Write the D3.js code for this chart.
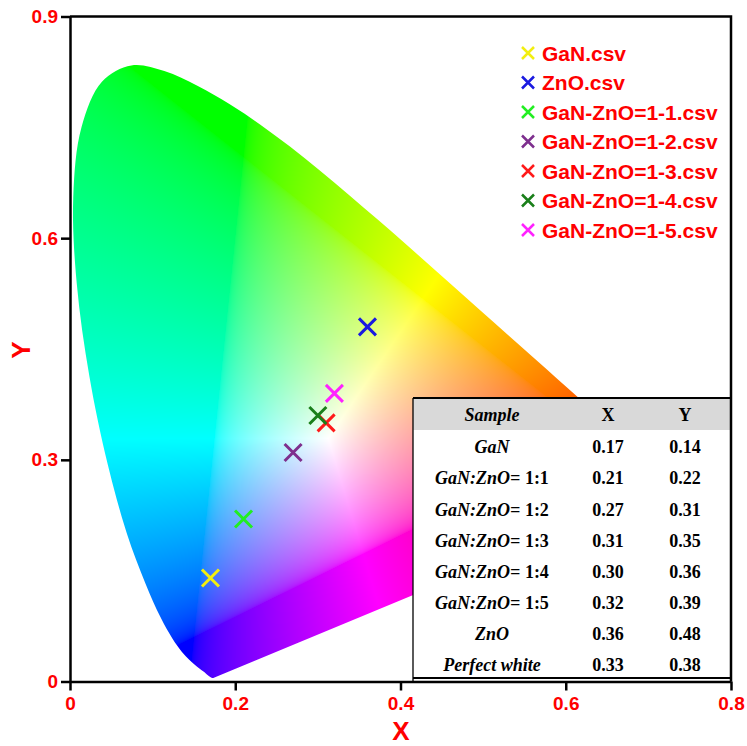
<!DOCTYPE html>
<html>
<head>
<meta charset="utf-8">
<script src="https://cdn.jsdelivr.net/npm/d3@7"></script>
<style>
  html, body { margin: 0; padding: 0; background: #ffffff; }
  svg { display: block; }
</style>
</head>
<body>
<svg id="chart" width="747" height="746"></svg>
<script>
// CIE 1931 2° spectral locus, 380–700 nm (chromaticity x, y)
const locusX = [0.1741,0.1740,0.1738,0.1736,0.1733,0.1730,0.1726,0.1721,0.1714,0.1703,0.1689,0.1669,0.1644,0.1611,0.1566,0.1510,0.1440,0.1355,0.1241,0.1096,0.0913,0.0687,0.0454,0.0235,0.0082,0.0039,0.0139,0.0389,0.0743,0.1142,0.1547,0.1929,0.2296,0.2658,0.3016,0.3373,0.3731,0.4087,0.4441,0.4788,0.5125,0.5448,0.5752,0.6029,0.6270,0.6482,0.6658,0.6801,0.6915,0.7006,0.7079,0.7140,0.7190,0.7230,0.7260,0.7283,0.7300,0.7311,0.7320,0.7334,0.7344,0.7347];
const locusY = [0.0050,0.0050,0.0049,0.0049,0.0048,0.0048,0.0048,0.0048,0.0051,0.0058,0.0069,0.0086,0.0109,0.0138,0.0177,0.0227,0.0297,0.0399,0.0578,0.0868,0.1327,0.2007,0.2950,0.4127,0.5384,0.6548,0.7502,0.8120,0.8338,0.8262,0.8059,0.7816,0.7543,0.7243,0.6923,0.6589,0.6245,0.5896,0.5547,0.5202,0.4866,0.4544,0.4242,0.3965,0.3725,0.3514,0.3340,0.3197,0.3083,0.2993,0.2920,0.2859,0.2809,0.2770,0.2740,0.2717,0.2700,0.2689,0.2680,0.2666,0.2656,0.2653];

// Measured samples
const seriesLabels = ["GaN.csv","ZnO.csv","GaN-ZnO=1-1.csv","GaN-ZnO=1-2.csv","GaN-ZnO=1-3.csv","GaN-ZnO=1-4.csv","GaN-ZnO=1-5.csv"];
const seriesX = [0.17,0.36,0.21,0.27,0.31,0.30,0.32];
const seriesY = [0.14,0.48,0.22,0.31,0.35,0.36,0.39];
const seriesColors = ["#f2ee10","#1a1ae0","#22ee22","#7e2f8e","#ff1a1a","#1a7f1a","#ff22ff"];

// Coordinates table
const tableHeader = ["Sample","X","Y"];
const tableNameItalic = ["GaN","GaN:ZnO=","GaN:ZnO=","GaN:ZnO=","GaN:ZnO=","GaN:ZnO=","ZnO","Perfect white"];
const tableNameRatio = ["","1:1","1:2","1:3","1:4","1:5","",""];
const tableX = [0.17,0.21,0.27,0.31,0.30,0.32,0.36,0.33];
const tableY = [0.14,0.22,0.31,0.35,0.36,0.39,0.48,0.38];

// Axis ticks
const xTicks = [0,0.2,0.4,0.6,0.8];
const yTicks = [0,0.3,0.6,0.9];

const svg = d3.select("#chart");
const mL = 70, mR = 731, mT = 16.5, mB = 681.5;
const x = d3.scaleLinear().domain([0,0.8]).range([mL,mR]);
const y = d3.scaleLinear().domain([0,0.9]).range([mB,mT]);

// ---- Chromaticity background (Adobe RGB primaries, D65) on a canvas ----
const cx0 = mL, cy0 = Math.floor(mT);
const W = Math.ceil(mR - mL), H = Math.ceil(mB - cy0);
const canvas = document.createElement("canvas");
canvas.width = W; canvas.height = H;
const ctx = canvas.getContext("2d");
const img = ctx.createImageData(W, H);
const gam = v => Math.pow(v, 1/2.19921875);
for (let j = 0; j < H; j++) {
  const cy = y.invert(cy0 + j + 0.5);
  if (cy <= 0.0005) continue;
  for (let i = 0; i < W; i++) {
    const cx = x.invert(cx0 + i + 0.5);
    const X = cx / cy, Y = 1, Z = (1 - cx - cy) / cy;
    let r = 2.0413690*X - 0.5649464*Y - 0.3446944*Z;
    let g = -0.9692660*X + 1.8760108*Y + 0.0415560*Z;
    let b = 0.0134474*X - 0.1183897*Y + 1.0154096*Z;
    r = Math.max(r,0); g = Math.max(g,0); b = Math.max(b,0);
    const m = Math.max(r,g,b) || 1;
    const k = (j*W + i)*4;
    img.data[k]   = Math.round(255*gam(r/m));
    img.data[k+1] = Math.round(255*gam(g/m));
    img.data[k+2] = Math.round(255*gam(b/m));
    img.data[k+3] = 255;
  }
}
ctx.putImageData(img, 0, 0);
ctx.globalCompositeOperation = "destination-in";
const locus = locusX.map((v,i) => [v, locusY[i]]);
ctx.beginPath();
d3.line().x(d => x(d[0]) - cx0).y(d => y(d[1]) - cy0)
  .curve(d3.curveCatmullRom).context(ctx)(locus);
ctx.closePath();
ctx.fillStyle = "#000";
ctx.fill();
svg.append("image")
  .attr("x", cx0).attr("y", cy0)
  .attr("width", W).attr("height", H)
  .attr("href", canvas.toDataURL());

// ---- Sample markers ----
const cross = (s) => `M${-s},${-s}L${s},${s}M${-s},${s}L${s},${-s}`;
svg.append("g").selectAll("path")
  .data(seriesX.map((v,i) => ({x: v, y: seriesY[i], c: seriesColors[i]})))
  .join("path")
  .attr("transform", d => `translate(${x(d.x)},${y(d.y)})`)
  .attr("d", cross(8.5))
  .attr("stroke", d => d.c)
  .attr("stroke-width", 3)
  .attr("fill", "none");

// ---- Table of coordinates ----
const tbl = svg.append("g");
const tLeft = 413, tTop = 398, tRight = mR, tBottom = 678;
tbl.append("rect").attr("x", tLeft).attr("y", tTop)
  .attr("width", tRight - tLeft).attr("height", tBottom - tTop)
  .attr("fill", "#ffffff");
tbl.append("rect").attr("x", tLeft).attr("y", tTop)
  .attr("width", tRight - tLeft).attr("height", 32)
  .attr("fill", "#d9d9d9");
tbl.append("path")
  .attr("d", `M${tLeft},${tTop}H${tRight}M${tLeft},${tBottom}H${tRight}`)
  .attr("stroke", "#000").attr("stroke-width", 2).attr("fill", "none");
tbl.append("path")
  .attr("d", `M${tLeft},${tTop}V${mB}`)
  .attr("stroke", "#000").attr("stroke-width", 1.3).attr("fill", "none");

const colX = [492, 608, 685];
const rowY = i => 447 + i*31.1;
const serif = "'Liberation Serif','Times New Roman',serif";
tbl.selectAll("text.hdr").data(tableHeader).join("text")
  .attr("class","hdr")
  .attr("x", (d,i) => colX[i]).attr("y", 415).attr("dy","0.35em")
  .attr("text-anchor","middle")
  .attr("font-family", serif).attr("font-size", 18).attr("font-weight","bold")
  .attr("font-style", (d,i) => i === 0 ? "italic" : "normal")
  .text(d => d);
const nameT = tbl.selectAll("text.name").data(tableNameItalic).join("text")
  .attr("class","name")
  .attr("x", colX[0]).attr("y", (d,i) => rowY(i)).attr("dy","0.35em")
  .attr("text-anchor","middle")
  .attr("font-family", serif).attr("font-size", 18).attr("font-weight","bold");
nameT.append("tspan").attr("font-style","italic").text(d => d);
nameT.append("tspan").text((d,i) => tableNameRatio[i] ? "\u00a0" + tableNameRatio[i] : "");
[tableX, tableY].forEach((col, c) => {
  tbl.selectAll(`text.v${c}`).data(col).join("text")
    .attr("class", `v${c}`)
    .attr("x", colX[c+1]).attr("y", (d,i) => rowY(i)).attr("dy","0.35em")
    .attr("text-anchor","middle")
    .attr("font-family", serif).attr("font-size", 18).attr("font-weight","bold")
    .text(d => d3.format(".2f")(d));
});

// ---- Axes ----
const fmt = d => d === 0 ? "0" : d3.format(".1f")(d);
const sans = "'Liberation Sans',Arial,sans-serif";
const gx = svg.append("g").attr("transform", `translate(0,${mB})`)
  .call(d3.axisBottom(x).tickValues(xTicks).tickFormat(fmt).tickSize(9).tickSizeOuter(0).tickPadding(6));
const gy = svg.append("g").attr("transform", `translate(${mL},0)`)
  .call(d3.axisLeft(y).tickValues(yTicks).tickFormat(fmt).tickSize(9).tickSizeOuter(0).tickPadding(3));
[gx, gy].forEach(g => {
  g.select(".domain").attr("stroke","#000").attr("stroke-width",2.5);
  g.selectAll(".tick line").attr("stroke","#000").attr("stroke-width",2.5);
  g.selectAll(".tick text").attr("fill","#ff0000")
    .attr("font-family", sans).attr("font-size", 19).attr("font-weight","bold");
});
svg.append("path")
  .attr("d", `M${mL},${mT}H${mR}V${mB}`)
  .attr("stroke","#000").attr("stroke-width",2.5).attr("fill","none");

svg.append("text").attr("x", 401).attr("y", 740)
  .attr("text-anchor","middle").attr("fill","#ff0000")
  .attr("font-family", sans).attr("font-size", 26).attr("font-weight","bold")
  .text("X");
svg.append("text").attr("transform", "translate(30,350) rotate(-90)")
  .attr("text-anchor","middle").attr("fill","#ff0000")
  .attr("font-family", sans).attr("font-size", 26).attr("font-weight","bold")
  .text("Y");

// ---- Legend ----
const lg = svg.append("g").selectAll("g")
  .data(seriesLabels).join("g")
  .attr("transform", (d,i) => `translate(528,${53 + i*29.5})`);
lg.append("path").attr("d", cross(6))
  .attr("stroke", (d,i) => seriesColors[i]).attr("stroke-width", 2.5).attr("fill","none");
lg.append("text").attr("x", 14).attr("dy","0.36em")
  .attr("fill","#ff0000").attr("font-family", sans).attr("font-size", 21).attr("font-weight","bold")
  .text(d => d);
</script>
</body>
</html>
